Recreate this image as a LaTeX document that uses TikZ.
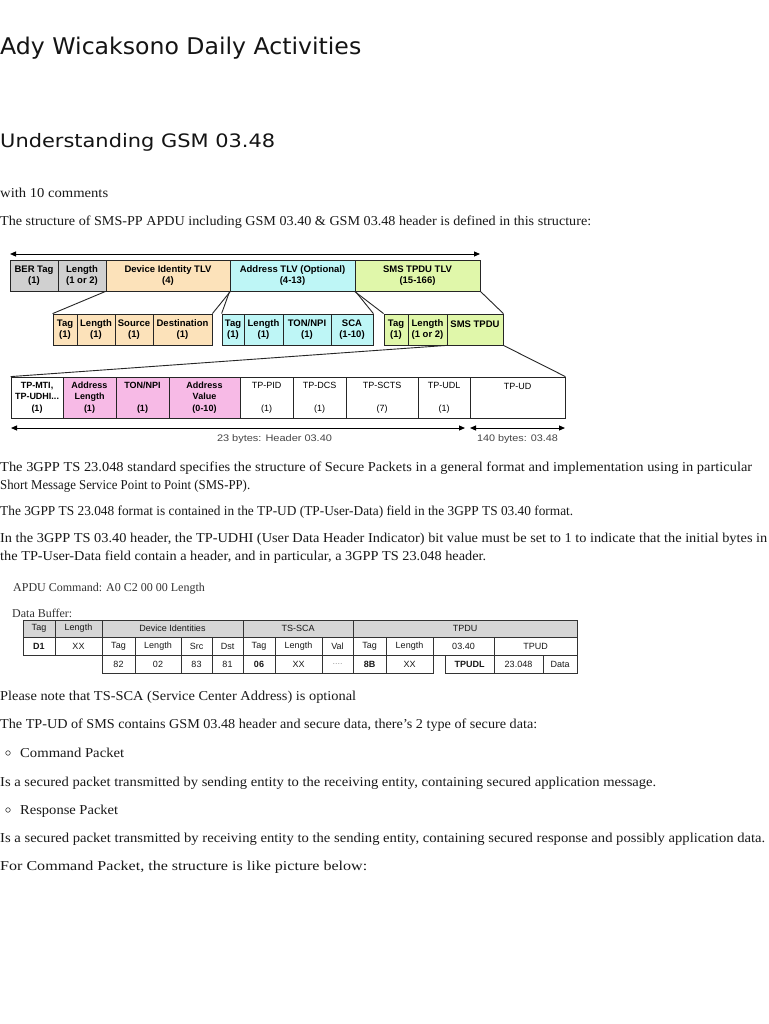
\documentclass[tikz,border=0pt]{standalone}
\usepackage{fontspec}
\setmainfont{Liberation Serif}
\newfontfamily\arialf{Liberation Sans}
\newfontfamily\headf{DejaVu Sans}
\usepackage{graphicx}
\usetikzlibrary{arrows.meta}

\definecolor{bgray}{RGB}{208,208,208}
\definecolor{peach}{RGB}{252,226,186}
\definecolor{aqua}{RGB}{190,246,246}
\definecolor{lime}{RGB}{224,247,170}
\definecolor{pinkf}{RGB}{247,186,230}
\definecolor{thead}{RGB}{214,214,214}
\definecolor{txt}{RGB}{25,25,25}
\definecolor{lbltxt}{RGB}{70,70,70}

\newcommand\fw[2]{\resizebox{#1pt}{\height}{#2}}
\newcommand\bx[8][]{\node[fld,fill=#7,minimum width={(#4-#3)*1pt},minimum height={(#6-#5)*1pt},#1] (#2) at ({(#3+#4)/2},{(#5+#6)/2}) {#8};}
\newcommand\tc[8][]{\node[tcell,fill=#7,minimum width={(#4-#3)*1pt},minimum height={(#6-#5)*1pt},#1] (#2) at ({(#3+#4)/2},{(#5+#6)/2}) {#8};}

\begin{document}
\begin{tikzpicture}[x=1pt,y=-1pt,
  fld/.style={draw=black!85,line width=0.8pt,inner sep=0pt,align=center,
    font=\arialf\bfseries\fontsize{9.5}{11}\selectfont,text=black},
  row3/.style={font=\arialf\bfseries\fontsize{9}{11.5}\selectfont},
  row3r/.style={font=\arialf\fontsize{9}{11.5}\selectfont},
  tcell/.style={draw=black!80,line width=1pt,inner sep=0pt,
    font=\arialf\fontsize{9}{10}\selectfont,text=black!90},
  conn/.style={draw=black!85,line width=0.9pt},
  dbl/.style={draw=black,line width=1pt,
    {Triangle[length=6pt,width=5pt]}-{Triangle[length=6pt,width=5pt]}},
  body/.style={anchor=base west,inner sep=0pt,text=txt,
    font=\fontsize{13.6}{16}\selectfont},
  head/.style={anchor=base west,inner sep=0pt,text=black!92},
  lbl/.style={inner sep=0pt,text=lbltxt,font=\arialf\fontsize{9.5}{11}\selectfont},
  bul/.style={circle,draw=txt,line width=0.5pt,inner sep=0pt,minimum size=4.6pt}
]
\fill[white] (0,0) rectangle (768,1024);
\useasboundingbox (0,0) rectangle (768,1024);

% headings
\node[head,font=\headf\fontsize{23}{26}\selectfont] (h1) at (0,55) {\fw{361}{Ady Wicaksono Daily Activities}};
\node[head,font=\headf\fontsize{18.5}{22}\selectfont] (h2) at (0,148) {\fw{275}{Understanding GSM 03.48}};

\node[body] (p0) at (0,198) {\fw{108}{with 10 comments}};
\node[body] (p1) at (0,226) {\fw{591}{The structure of SMS-PP APDU including GSM 03.40 \& GSM 03.48 header is defined in this structure:}};

% ===== diagram =====
\coordinate (tl) at (10,254);
\coordinate (tr) at (480,254);
\draw[dbl] (tl) -- (tr);

\bx{ber}{10}{58}{260}{291}{bgray}{BER Tag\\(1)}
\bx{len}{58}{106}{260}{291}{bgray}{Length\\(1 or 2)}
\bx{dev}{106}{230}{260}{291}{peach}{Device Identity TLV\\(4)}
\bx{addr}{230}{355}{260}{291}{aqua}{Address TLV (Optional)\\(4-13)}
\bx{sms}{355}{480}{260}{291}{lime}{SMS TPDU TLV\\(15-166)}

\bx{dtag}{53}{77}{314}{345}{peach}{Tag\\(1)}
\bx{dlen}{77}{115}{314}{345}{peach}{Length\\(1)}
\bx{dsrc}{115}{153}{314}{345}{peach}{Source\\(1)}
\bx{ddst}{153}{212}{314}{345}{peach}{Destination\\(1)}

\bx{atag}{222}{244}{314}{345}{aqua}{Tag\\(1)}
\bx{alen}{244}{283}{314}{345}{aqua}{Length\\(1)}
\bx{aton}{283}{331}{314}{345}{aqua}{TON/NPI\\(1)}
\bx{asca}{331}{373}{314}{345}{aqua}{SCA\\(1-10)}

\bx{stag}{384}{408}{314}{345}{lime}{Tag\\(1)}
\bx{slen}{408}{447}{314}{345}{lime}{Length\\(1 or 2)}
\bx{stpdu}{447}{503}{314}{345}{lime}{SMS TPDU\\~}

\draw[conn] (dev.south west) -- (dtag.north west);
\draw[conn] (dev.south east) -- (ddst.north east);
\draw[conn] (addr.south west) -- (atag.north west);
\draw[conn] (addr.south east) -- (asca.north east);
\draw[conn] (sms.south west) -- (stag.north west);
\draw[conn] (sms.south east) -- (stpdu.north east);

\bx[row3]{mti}{11}{63}{377}{418}{white}{TP-MTI,\\TP-UDHI...\\(1)}
\bx[row3]{aln}{63}{116}{377}{418}{pinkf}{Address\\Length\\(1)}
\bx[row3]{ton}{116}{169}{377}{418}{pinkf}{TON/NPI\\~\\(1)}
\bx[row3]{aval}{169}{240}{377}{418}{pinkf}{Address\\Value\\(0-10)}
\bx[row3r]{pid}{240}{293}{377}{418}{white}{TP-PID\\~\\(1)}
\bx[row3r]{dcs}{293}{346}{377}{418}{white}{TP-DCS\\~\\(1)}
\bx[row3r]{scts}{346}{418}{377}{418}{white}{TP-SCTS\\~\\(7)}
\bx[row3r]{udl}{418}{470}{377}{418}{white}{TP-UDL\\~\\(1)}
\bx[row3r]{tpud}{470}{565}{377}{418}{white}{TP-UD\\~\\~}

\draw[conn] (stpdu.south west) -- (mti.north west);
\draw[conn] (stpdu.south east) -- (tpud.north east);

\coordinate (bl) at (11,428);
\coordinate (bm) at (465,428);
\coordinate (bn) at (470,428);
\coordinate (br) at (565,428);
\draw[dbl] (bl) -- (bm);
\draw[dbl] (bn) -- (br);
\node[lbl] (hdr) at (274.5,439) {\fw{115}{23 bytes: Header 03.40}};
\node[lbl] (sec) at (517.5,439) {\fw{81}{140 bytes: 03.48}};

% ===== paragraphs =====
\node[body] (p2) at (0,471) {\fw{752}{The 3GPP TS 23.048 standard specifies the structure of Secure Packets in a general format and implementation using in particular}};
\node[body] (p3) at (0,489) {\fw{250}{Short Message Service Point to Point (SMS-PP).}};
\node[body] (p4) at (0,515) {\fw{573}{The 3GPP TS 23.048 format is contained in the TP-UD (TP-User-Data) field in the 3GPP TS 03.40 format.}};
\node[body] (p5) at (0,542) {\fw{767}{In the 3GPP TS 03.40 header, the TP-UDHI (User Data Header Indicator) bit value must be set to 1 to indicate that the initial bytes in}};
\node[body] (p6) at (0,560) {\fw{486}{the TP-User-Data field contain a header, and in particular, a 3GPP TS 23.048 header.}};

% ===== APDU table =====
\node[anchor=base west,inner sep=0pt,text=black!80,font=\fontsize{12}{14}\selectfont] (apdu) at (13,591) {APDU Command: A0 C2 00 00 Length};
\node[anchor=base west,inner sep=0pt,text=black!80,font=\fontsize{12}{14}\selectfont] (dbuf) at (12,617) {Data Buffer:};

\tc{h1c}{23}{55}{620}{637}{thead}{Tag}
\tc{h2c}{55}{102}{620}{637}{thead}{Length}
\tc{h3c}{102}{243}{620}{637}{thead}{Device Identities}
\tc{h4c}{243}{353}{620}{637}{thead}{TS-SCA}
\tc{h5c}{353}{577}{620}{637}{thead}{TPDU}

\tc[font=\arialf\bfseries\fontsize{9}{10}\selectfont]{r1}{23}{55}{637}{655}{white}{D1}
\tc{r2}{55}{102}{637}{655}{white}{XX}
\tc{r3}{102}{135}{637}{655}{white}{Tag}
\tc{r4}{135}{181}{637}{655}{white}{Length}
\tc{r5}{181}{212}{637}{655}{white}{Src}
\tc{r6}{212}{243}{637}{655}{white}{Dst}
\tc{r7}{243}{275}{637}{655}{white}{Tag}
\tc{r8}{275}{322}{637}{655}{white}{Length}
\tc{r9}{322}{353}{637}{655}{white}{Val}
\tc{r10}{353}{386}{637}{655}{white}{Tag}
\tc{r11}{386}{433}{637}{655}{white}{Length}
\tc{r12}{433}{494}{637}{655}{white}{03.40}
\tc{r13}{494}{577}{637}{655}{white}{TPUD}

\tc{s1}{102}{135}{655}{673}{white}{82}
\tc{s2}{135}{181}{655}{673}{white}{02}
\tc{s3}{181}{212}{655}{673}{white}{83}
\tc{s4}{212}{243}{655}{673}{white}{81}
\tc[font=\arialf\bfseries\fontsize{9}{10}\selectfont]{s5}{243}{275}{655}{673}{white}{06}
\tc{s6}{275}{322}{655}{673}{white}{XX}
\tc[text=black!40]{s7}{322}{353}{655}{673}{white}{....}
\tc[font=\arialf\bfseries\fontsize{9}{10}\selectfont]{s8}{353}{386}{655}{673}{white}{8B}
\tc{s9}{386}{433}{655}{673}{white}{XX}
\tc[font=\arialf\bfseries\fontsize{9}{10}\selectfont]{s10}{445}{494}{655}{673}{white}{TPUDL}
\tc{s11}{494}{543}{655}{673}{white}{23.048}
\tc{s12}{543}{577}{655}{673}{white}{Data}

% ===== lower paragraphs =====
\node[body] (q1) at (0,700) {\fw{356}{Please note that TS-SCA (Service Center Address) is optional}};
\node[body] (q2) at (0,728) {\fw{537}{The TP-UD of SMS contains GSM 03.48 header and secure data, there's 2 type of secure data:}};
\node[bul] (b1) at (8,753) {};
\node[body] (q3) at (20,757) {\fw{104}{Command Packet}};
\node[body] (q4) at (0,786) {\fw{656}{Is a secured packet transmitted by sending entity to the receiving entity, containing secured application message.}};
\node[bul] (b2) at (8,810) {};
\node[body] (q5) at (20,814) {\fw{98}{Response Packet}};
\node[body] (q6) at (0,842) {\fw{765}{Is a secured packet transmitted by receiving entity to the sending entity, containing secured response and possibly application data.}};
\node[body] (q7) at (0,870) {\fw{367}{For Command Packet, the structure is like picture below:}};
\end{tikzpicture}
\end{document}
